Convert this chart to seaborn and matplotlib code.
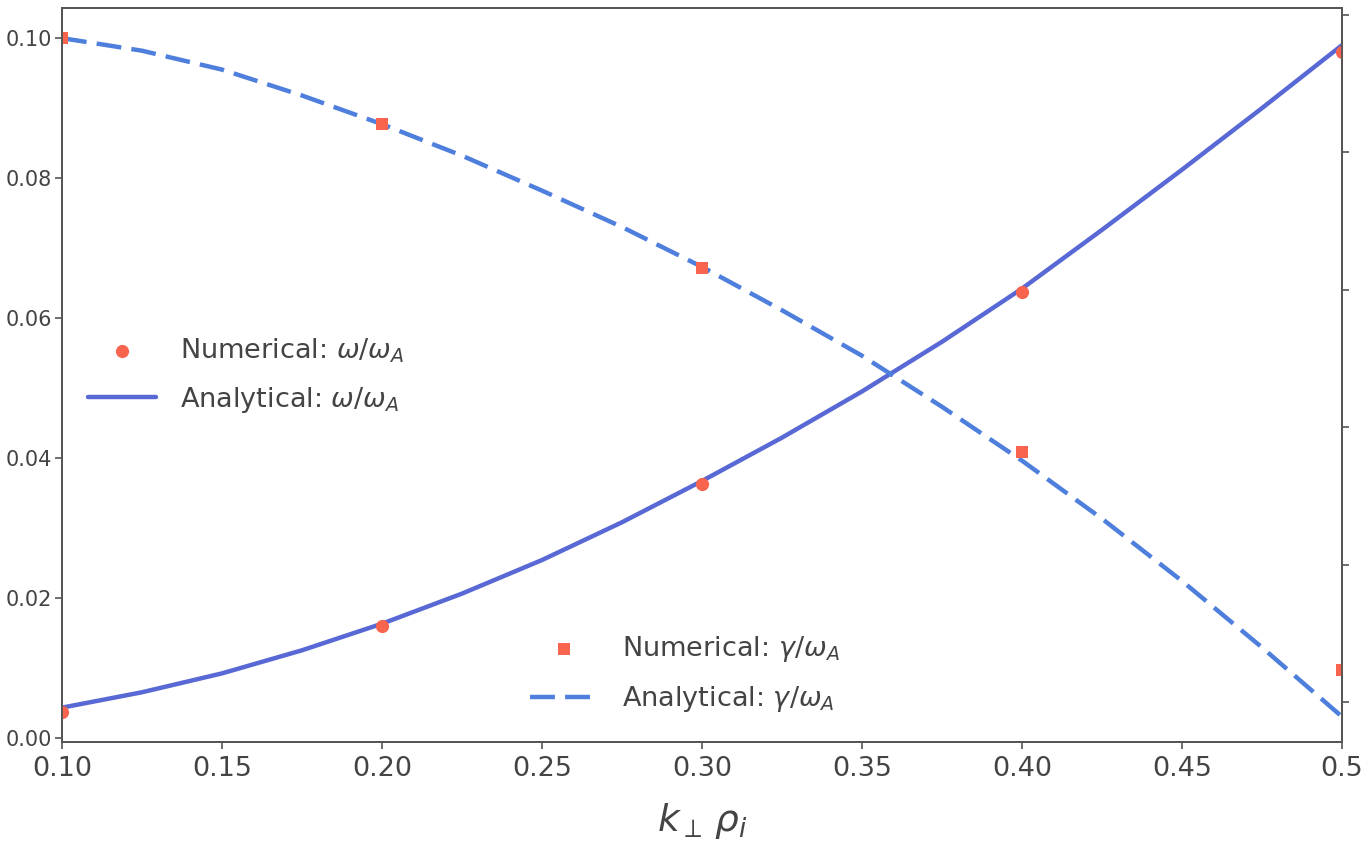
import numpy as np
import pandas as pd
import matplotlib
matplotlib.use("Agg")
import matplotlib.pyplot as plt
import seaborn as sns

# k_perp * rho_i grid of the analytical curves
k_line = [0.100, 0.125, 0.150, 0.175, 0.200, 0.225, 0.250, 0.275, 0.300,
          0.325, 0.350, 0.375, 0.400, 0.425, 0.450, 0.475, 0.500]
omega_line = [0.0043, 0.0065, 0.0092, 0.0125, 0.0163, 0.0206, 0.0254, 0.0308, 0.0367,
              0.0429, 0.0495, 0.0566, 0.0642, 0.0726, 0.0812, 0.0900, 0.0990]
gamma_line = [0.1000, 0.0982, 0.0955, 0.0918, 0.0877, 0.0832, 0.0782, 0.0730, 0.0673,
              0.0611, 0.0546, 0.0473, 0.0396, 0.0313, 0.0224, 0.0129, 0.0030]

# numerical points
k_num = [0.1, 0.2, 0.3, 0.4, 0.5]
omega_num = [0.0037, 0.0160, 0.0363, 0.0637, 0.0980]
gamma_num = [0.1000, 0.0877, 0.0672, 0.0408, 0.0097]

xtick_vals = [0.10, 0.15, 0.20, 0.25, 0.30, 0.35, 0.40, 0.45, 0.50]
xtick_labels = ["0.10", "0.15", "0.20", "0.25", "0.30", "0.35", "0.40", "0.45", "0.5"]
ytick_vals = [0.00, 0.02, 0.04, 0.06, 0.08, 0.10]
ytick_labels = ["0.00", "0.02", "0.04", "0.06", "0.08", "0.10"]
right_ticks = [0, 1, 2, 3, 4, 5]

lines = pd.DataFrame({"k": k_line, "omega": omega_line, "gamma": gamma_line})
points = pd.DataFrame({"k": k_num, "omega": omega_num, "gamma": gamma_num})

sns.set_style("ticks")
plt.rcParams["font.family"] = ["DejaVu Sans"]
plt.rcParams["mathtext.fontset"] = "dejavusans"

text_col = "#444444"
red = "#f9644f"
solid_col = "#5868d4"
dash_col = "#4f7fdc"

fig = plt.figure(figsize=(13.71, 8.46), dpi=100)
ax = fig.add_axes([0.0452, 0.123, 0.9337, 0.8675])

sns.scatterplot(data=points, x="k", y="omega", ax=ax, color=red, marker="o",
                s=90, linewidth=0, label=r"Numerical: $\omega/\omega_A$", zorder=3)
sns.lineplot(data=lines, x="k", y="omega", ax=ax, color=solid_col, lw=3.2,
             label=r"Analytical: $\omega/\omega_A$", zorder=2)
sns.scatterplot(data=points, x="k", y="gamma", ax=ax, color=red, marker="s",
                s=70, linewidth=0, label=r"Numerical: $\gamma/\omega_A$", zorder=3)
sns.lineplot(data=lines, x="k", y="gamma", ax=ax, color=dash_col, lw=3.2,
             linestyle=(0, (5.6, 2.3)), label=r"Analytical: $\gamma/\omega_A$", zorder=2)

ax.set_xlim(0.1, 0.5)
ax.set_ylim(-0.0006, 0.1043)
ax.set_xticks(xtick_vals)
ax.set_xticklabels(xtick_labels)
ax.set_yticks(ytick_vals)
ax.set_yticklabels(ytick_labels)
ax.tick_params(axis="both", colors="#555555", labelcolor=text_col,
               length=5, width=1.2)
ax.tick_params(axis="x", labelsize=19.5, pad=5)
ax.tick_params(axis="y", labelsize=15, pad=2)
ax.set_xlabel(r"$k_\perp\,\rho_i$", fontsize=27, color=text_col, labelpad=14)
ax.set_ylabel("")
for sp in ax.spines.values():
    sp.set_color("#555555")
    sp.set_linewidth(1.3)

# twin axis on the right (its labels fall outside the cropped figure)
ax2 = ax.twinx()
ax2.set_ylim(-0.29, 5.05)
ax2.set_yticks(right_ticks)
ax2.set_yticklabels([""] * len(right_ticks))
ax2.tick_params(axis="y", length=5, width=1.2, colors="#555555")
for sp in ax2.spines.values():
    sp.set_color("#555555")
    sp.set_linewidth(1.3)

handles, labels = ax.get_legend_handles_labels()
if ax.get_legend() is not None:
    ax.get_legend().remove()

leg_kw = dict(frameon=False, fontsize=19.5, handlelength=2.5, handletextpad=0.9,
              labelspacing=0.75, borderpad=0, borderaxespad=0, loc="upper left",
              labelcolor=text_col)
leg1 = ax.legend(handles[:2], labels[:2], bbox_to_anchor=(0.0203, 0.553), **leg_kw)
ax.add_artist(leg1)
ax.legend(handles[2:], labels[2:], bbox_to_anchor=(0.3656, 0.147), **leg_kw)

fig.savefig("out.png", dpi=100)
